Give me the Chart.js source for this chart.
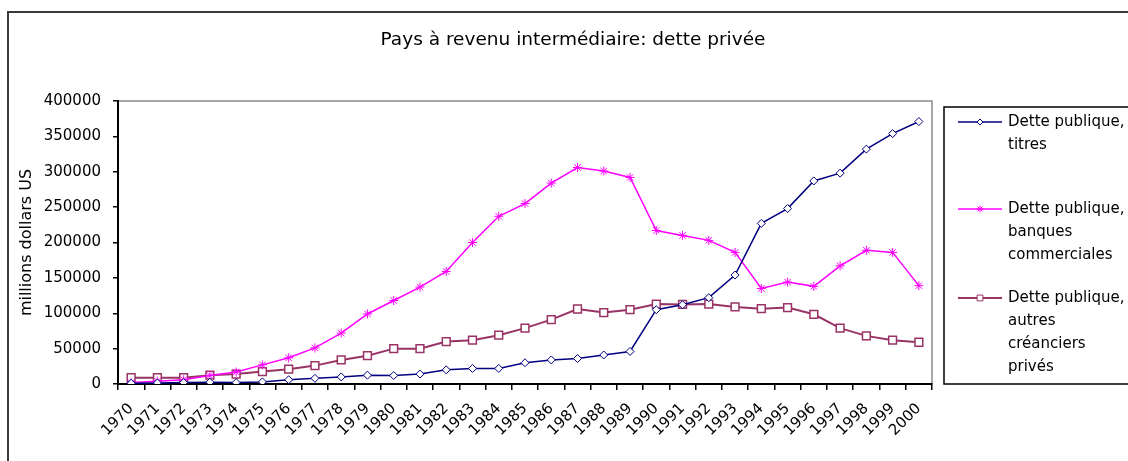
<!DOCTYPE html>
<html>
<head>
<meta charset="utf-8">
<title>Pays à revenu intermédiaire: dette privée</title>
<script src="https://cdn.jsdelivr.net/npm/chart.js@4.4.1/dist/chart.umd.min.js"></script>
<style>
    body { margin: 0; background: #fff; }
    #wrap { position: relative; width: 1128px; height: 461px; overflow: hidden; }
</style>
</head>
<body>
<div id="wrap"><canvas id="dette"></canvas></div>
<script>
    const chartTitle = 'Pays à revenu intermédiaire: dette privée';
    const yTitle = 'millions dollars US';
    const years = ['1970', '1971', '1972', '1973', '1974', '1975', '1976', '1977', '1978', '1979',
        '1980', '1981', '1982', '1983', '1984', '1985', '1986', '1987', '1988', '1989',
        '1990', '1991', '1992', '1993', '1994', '1995', '1996', '1997', '1998', '1999', '2000'];

    const titres = [1000, 1500, 2000, 2500, 2000, 3000, 6000, 8000, 10000, 12500,
        12000, 14000, 20000, 22000, 22000, 30000, 34000, 36000, 41000, 46000,
        105000, 112000, 122000, 154000, 227000, 248000, 287000, 298000, 332000, 354000, 371000];
    const banques = [2000, 4000, 6000, 12000, 17000, 27000, 37000, 51000, 72000, 99000,
        118000, 137000, 159000, 200000, 237000, 255000, 284000, 306000, 301000, 292000,
        217000, 210000, 203000, 186000, 135000, 144000, 138000, 167000, 189000, 186000, 139000];
    const autres = [9000, 9000, 9000, 12500, 14000, 17500, 21000, 26000, 34000, 40000,
        50000, 50000, 60000, 62000, 69000, 79000, 91000, 106000, 101000, 105000,
        113000, 112500, 113000, 109000, 106500, 108000, 98500, 79000, 68000, 62000, 59000];

    const yTicks = [0, 50000, 100000, 150000, 200000, 250000, 300000, 350000, 400000];

    const legendLines = [
        ['Dette publique,', 'titres'],
        ['Dette publique,', 'banques', 'commerciales'],
        ['Dette publique,', 'autres', 'créanciers', 'privés']
    ];

    const FONT = '"DejaVu Sans", Verdana, sans-serif';

    // <-- frame, title and legend -->
    const decor = {
        id: 'decor',
        beforeDraw(chart) {
            const { ctx, chartArea: a } = chart;
            ctx.save();
            ctx.fillStyle = '#fff';
            ctx.fillRect(0, 0, chart.width, chart.height);
            ctx.strokeStyle = '#3a3a3a';
            ctx.lineWidth = 2;
            ctx.strokeRect(8, 12, chart.width + 20, chart.height + 20);
            ctx.strokeStyle = '#8a8a8a';
            ctx.lineWidth = 1.5;
            ctx.strokeRect(a.left, a.top, a.right - a.left, a.bottom - a.top);
            ctx.restore();
        },
        afterDraw(chart) {
            const ctx = chart.ctx;
            ctx.save();
            ctx.fillStyle = '#000';
            ctx.font = '18.5px ' + FONT;
            ctx.textAlign = 'center';
            ctx.textBaseline = 'alphabetic';
            ctx.fillText(chartTitle, 573, 45);

            ctx.strokeStyle = '#000';
            ctx.lineWidth = 1.5;
            ctx.strokeRect(944, 107, 200, 277);

            const rows = [122, 209, 298];
            const drawPoint = Chart.helpers && Chart.helpers.drawPoint;
            chart.data.datasets.forEach((ds, i) => {
                const y = rows[i];
                ctx.strokeStyle = ds.borderColor;
                ctx.lineWidth = ds.borderWidth;
                ctx.beginPath();
                ctx.moveTo(958, y);
                ctx.lineTo(1002, y);
                ctx.stroke();
                if (drawPoint) {
                    ctx.fillStyle = ds.pointBackgroundColor;
                    ctx.strokeStyle = ds.borderColor;
                    ctx.lineWidth = 1;
                    drawPoint(ctx, { pointStyle: ds.pointStyle, radius: ds.pointRadius * 0.75, borderWidth: 1, rotation: 0 }, 980, y);
                }
                ctx.fillStyle = '#000';
                ctx.font = '15px ' + FONT;
                ctx.textAlign = 'left';
                ctx.textBaseline = 'middle';
                legendLines[i].forEach((t, k) => ctx.fillText(t, 1008, y + k * 23));
            });
            ctx.restore();
        }
    };

    new Chart(document.getElementById('dette'), {
        type: 'line',
        data: {
            labels: years,
            datasets: [{
                label: legendLines[0].join(' '),
                data: titres,
                borderColor: '#000080',
                borderWidth: 1.5,
                pointStyle: 'rectRot',
                pointRadius: 4,
                pointBorderWidth: 1,
                pointBackgroundColor: '#fff',
                tension: 0
            }, {
                label: legendLines[1].join(' '),
                data: banques,
                borderColor: '#ff00ff',
                borderWidth: 1.5,
                pointStyle: 'star',
                pointRadius: 4.5,
                pointBorderWidth: 1,
                pointBackgroundColor: '#fff',
                tension: 0
            }, {
                label: legendLines[2].join(' '),
                data: autres,
                borderColor: '#993366',
                borderWidth: 2,
                pointStyle: 'rect',
                pointRadius: 5.5,
                pointBorderWidth: 1.5,
                pointBackgroundColor: '#fff',
                tension: 0
            }]
        },
        options: {
            responsive: true,
            maintainAspectRatio: false,
            animation: false,
            layout: { padding: { top: 101, right: 196, left: 0, bottom: 0 } },
            plugins: { legend: { display: false }, title: { display: false }, tooltip: { enabled: false } },
            scales: {
                x: {
                    offset: true,
                    grid: { display: true, drawOnChartArea: false, offset: true, tickLength: 6, color: '#000', lineWidth: 1.5 },
                    border: { color: '#000', width: 2 },
                    ticks: { autoSkip: false, maxRotation: 45, minRotation: 45, padding: 10, color: '#000', font: { family: FONT, size: 15 } },
                    afterFit(scale) { scale.height = 77; }
                },
                y: {
                    min: 0,
                    max: 400000,
                    afterBuildTicks(scale) { scale.ticks = yTicks.map(v => ({ value: v })); },
                    grid: { display: true, drawOnChartArea: false, tickLength: 5, color: '#000', lineWidth: 1.5 },
                    border: { color: '#000', width: 2 },
                    ticks: { padding: 12, color: '#000', font: { family: FONT, size: 15 }, callback: v => String(v) },
                    title: { display: true, text: yTitle, color: '#000', padding: { top: 17, bottom: 0 }, font: { family: FONT, size: 16 } },
                    afterFit(scale) { scale.width = 118; }
                }
            }
        },
        plugins: [decor]
    });
</script>
</body>
</html>
